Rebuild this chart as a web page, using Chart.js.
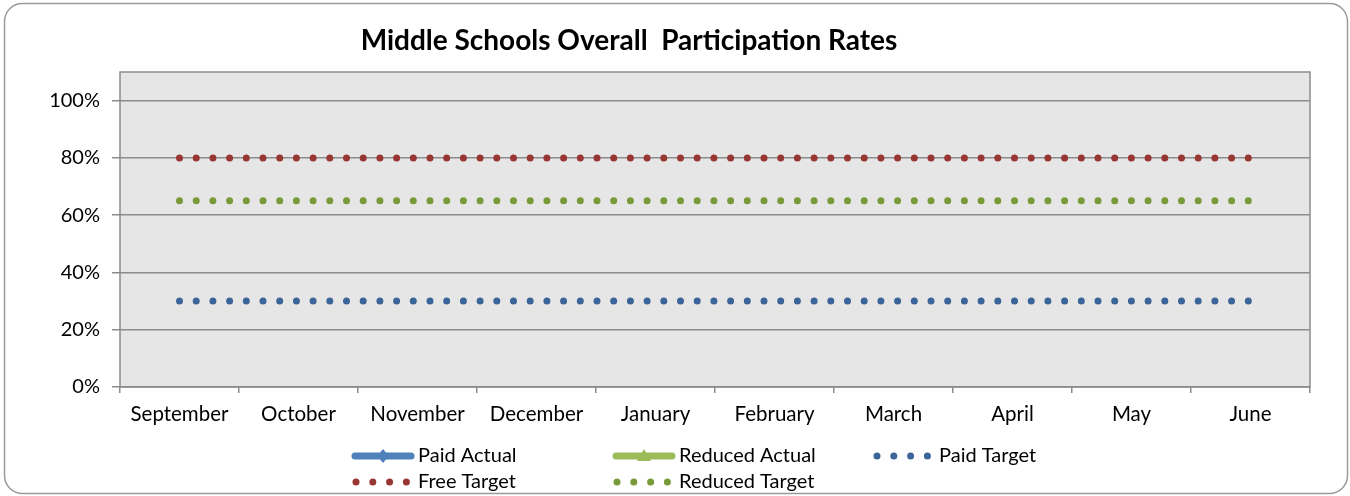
<!DOCTYPE html>
<html>
<head>
<meta charset="utf-8">
<script src="https://cdn.jsdelivr.net/npm/chart.js@4.4.0/dist/chart.umd.min.js"></script>
<style>
    html, body { margin: 0; padding: 0; background: #fff; }
    canvas { display: block; }
</style>
</head>
<body>
<canvas id="chart" width="1350" height="496"></canvas>
<script>
// Middle schools participation rates (percent)

const months = ['September', 'October', 'November', 'December', 'January',
    'February', 'March', 'April', 'May', 'June'];
const yTicks = [0, 20, 40, 60, 80, 100];

const paidActual = [];
const reducedActual = [];
const paidTarget = [30, 30, 30, 30, 30, 30, 30, 30, 30, 30];
const freeTarget = [80, 80, 80, 80, 80, 80, 80, 80, 80, 80];
const reducedTarget = [65, 65, 65, 65, 65, 65, 65, 65, 65, 65];

const FONT = 'Lato, "Open Sans", sans-serif';
const DOT_DASH = [0, 16.7];

// background, plot frame, outer rounded border, title, legend
const decorPlugin = {
    id: 'decor',
    beforeDraw(chart) {
        const { ctx, chartArea: a } = chart;
        ctx.save();
        ctx.fillStyle = '#fff';
        ctx.fillRect(0, 0, chart.width, chart.height);
        ctx.fillStyle = '#e6e6e6';
        ctx.fillRect(a.left, a.top, a.right - a.left, a.bottom - a.top);
        ctx.restore();
    },
    afterDatasetsDraw(chart) {
        const { ctx, chartArea: a } = chart;
        ctx.save();
        ctx.strokeStyle = '#8c8c8c';
        ctx.lineWidth = 1.5;
        ctx.strokeRect(a.left, a.top, a.right - a.left, a.bottom - a.top);
        ctx.restore();
    },
    afterDraw(chart) {
        const ctx = chart.ctx;
        ctx.save();

        // outer border
        ctx.strokeStyle = '#9a9a9a';
        ctx.lineWidth = 1.5;
        ctx.beginPath();
        ctx.roundRect(4.5, 3.5, 1343, 490, 18);
        ctx.stroke();

        // title
        ctx.fillStyle = '#000';
        ctx.font = 'bold 28px ' + FONT;
        ctx.textAlign = 'center';
        ctx.textBaseline = 'alphabetic';
        ctx.fillText('Middle Schools Overall  Participation Rates', 629, 50);

        // legend
        const slots = [[352, 456], [613, 456], [873, 456], [352, 482], [613, 482]];
        ctx.font = '20px ' + FONT;
        ctx.textAlign = 'left';
        ctx.textBaseline = 'middle';
        chart.data.datasets.forEach((ds, i) => {
            const [x, y] = slots[i];
            if (ds.legendKind === 'line') {
                ctx.strokeStyle = ds.borderColor;
                ctx.lineWidth = 7;
                ctx.lineCap = 'round';
                ctx.beginPath();
                ctx.moveTo(x + 3, y);
                ctx.lineTo(x + 59, y);
                ctx.stroke();
                ctx.fillStyle = ds.borderColor;
                const cx = x + 31;
                ctx.beginPath();
                if (ds.pointStyle === 'triangle') {
                    ctx.moveTo(cx, y - 7);
                    ctx.lineTo(cx + 7, y + 5);
                    ctx.lineTo(cx - 7, y + 5);
                } else {
                    ctx.moveTo(cx, y - 7);
                    ctx.lineTo(cx + 6, y);
                    ctx.lineTo(cx, y + 7);
                    ctx.lineTo(cx - 6, y);
                }
                ctx.closePath();
                ctx.fill();
            } else {
                ctx.fillStyle = ds.borderColor;
                for (let k = 0; k < 4; k++) {
                    ctx.beginPath();
                    ctx.arc(x + 4 + k * 16.8, y, 3.5, 0, Math.PI * 2);
                    ctx.fill();
                }
            }
            ctx.fillStyle = '#000';
            ctx.fillText(ds.label, x + 66, y);
        });
        ctx.restore();
    }
};

function dottedSeries(label, data, color) {
    return {
        label: label,
        data: data,
        borderColor: color,
        backgroundColor: color,
        borderWidth: 7,
        borderDash: DOT_DASH,
        borderCapStyle: 'round',
        pointRadius: 0,
        tension: 0,
        fill: false,
        legendKind: 'dots'
    };
}

new Chart(document.getElementById('chart'), {
    type: 'line',
    data: {
        labels: months,
        datasets: [
            {
                label: 'Paid Actual', data: paidActual, borderColor: '#4f81bd',
                backgroundColor: '#4f81bd', borderWidth: 6, pointStyle: 'rectRot',
                pointRadius: 5, legendKind: 'line'
            },
            {
                label: 'Reduced Actual', data: reducedActual, borderColor: '#9bbb59',
                backgroundColor: '#9bbb59', borderWidth: 6, pointStyle: 'triangle',
                pointRadius: 5, legendKind: 'line'
            },
            dottedSeries('Paid Target', paidTarget, '#3b6499'),
            dottedSeries('Free Target', freeTarget, '#983634'),
            dottedSeries('Reduced Target', reducedTarget, '#789a39')
        ]
    },
    options: {
        responsive: false,
        animation: false,
        devicePixelRatio: 1,
        layout: { padding: { left: 0, right: 40, top: 72, bottom: 69 } },
        plugins: {
            legend: { display: false },
            title: { display: false },
            tooltip: { enabled: false }
        },
        scales: {
            x: {
                offset: true,
                grid: {
                    offset: true,
                    drawOnChartArea: false,
                    drawTicks: true,
                    tickLength: 6,
                    color: '#8c8c8c',
                    lineWidth: 1.5
                },
                border: { display: false },
                ticks: {
                    color: '#000',
                    font: { family: FONT, size: 20.5 },
                    padding: 9,
                    maxRotation: 0,
                    autoSkip: false
                },
                afterFit(scale) { scale.height = 40; }
            },
            y: {
                min: 0,
                max: 110,
                afterBuildTicks(scale) {
                    scale.ticks = yTicks.map(v => ({ value: v }));
                },
                grid: {
                    color: '#8c8c8c',
                    lineWidth: 1.5,
                    drawTicks: true,
                    tickLength: 8
                },
                border: { display: false },
                ticks: {
                    color: '#000',
                    font: { family: FONT, size: 20 },
                    padding: 12,
                    callback: v => v + '%'
                },
                afterFit(scale) { scale.width = 120; }
            }
        }
    },
    plugins: [decorPlugin]
});
</script>
</body>
</html>
